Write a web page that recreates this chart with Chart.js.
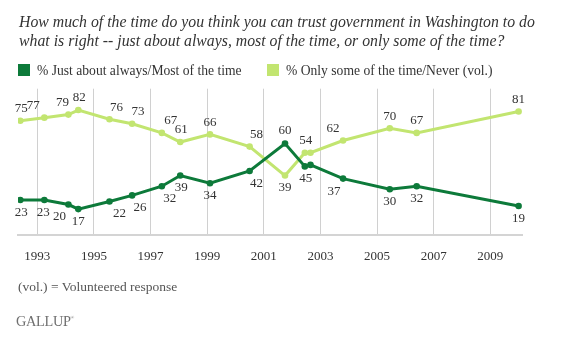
<!DOCTYPE html>
<html>
<head>
<meta charset="utf-8">
<script src="https://cdn.jsdelivr.net/npm/chart.js@4.4.1/dist/chart.umd.min.js"></script>
<style>
  html, body { margin: 0; padding: 0; background: #fff; }
  #wrap { position: relative; width: 570px; height: 337px; overflow: hidden; font-family: "Liberation Serif", serif; color: #333; }
  #chartBox { position: absolute; left: 0; top: 0; width: 570px; height: 337px; }
  .title { position: absolute; left: 19px; top: 12px; font-style: italic; font-size: 15.8px; line-height: 19px; color: #333; white-space: nowrap; }
  .legend { position: absolute; top: 63px; font-size: 13.6px; color: #333; white-space: nowrap; }
  .legend i { display: inline-block; width: 12px; height: 12px; vertical-align: -1px; margin-right: 7px; }
  .note { position: absolute; left: 18px; top: 279px; font-size: 13.5px; color: #555; }
  .brand { position: absolute; left: 16px; top: 313px; font-size: 14.3px; color: #6f6f6f; letter-spacing: -0.3px; }
  .brand sup { font-size: 5px; vertical-align: 7px; }
</style>
</head>
<body>
<div id="wrap">
  <div id="chartBox"><canvas id="trustChart"></canvas></div>
  <div class="title">How much of the time do you think you can trust government in Washington to do<br>what is right -- just about always, most of the time, or only some of the time?</div>
  <div class="legend" style="left:18px"><i style="background:#0d7a3a"></i>% Just about always/Most of the time</div>
  <div class="legend" style="left:267px"><i style="background:#c2e570"></i>% Only some of the time/Never (vol.)</div>
  <div class="note">(vol.) = Volunteered response</div>
  <div class="brand">GALLUP<sup>®</sup></div>
</div>
<script>
// survey dates (fractional years)
const surveyDates = [1992.4, 1993.25, 1994.1, 1994.45, 1995.55, 1996.35, 1997.4, 1998.05,
  1999.1, 2000.5, 2001.75, 2002.45, 2002.65, 2003.8, 2005.45, 2006.4, 2010.0];
const mostOfTime = [23, 23, 20, 17, 22, 26, 32, 39, 34, 42, 60, 45, 46, 37, 30, 32, 19];
const someOrNever = [75, 77, 79, 82, 76, 73, 67, 61, 66, 58, 39, 54, 54, 62, 70, 67, 81];
const tickYears = [1993, 1995, 1997, 1999, 2001, 2003, 2005, 2007, 2009];

// label nudges so neighbouring numbers don't collide
const darkLabelDx = [1, -1, -9, 0, 10, 8, 8, 1, 0, 7, 0, 1, 0, -9, 0, 0, 0];
const lightLabelDx = [1, -11, -6, 1, 7, 6, 9, 1, 0, 7, 0, 1, 0, -10, 0, 0, 0];
const flipLabelAt = 10;   // lines cross here, labels swap sides
const noLabelAt = 12;

const DARK = '#0d7a3a';
const LIGHT = '#c2e570';

const toPoints = vals => vals.map((v, i) => ({ x: surveyDates[i], y: v }));

const pointLabels = {
  id: 'pointLabels',
  afterDatasetsDraw(chart) {
    const ctx = chart.ctx;
    ctx.save();
    ctx.font = '13px "Liberation Serif", serif';
    ctx.fillStyle = '#333';
    ctx.textAlign = 'center';
    ctx.textBaseline = 'middle';
    chart.data.datasets.forEach((ds, di) => {
      const meta = chart.getDatasetMeta(di);
      const below = di === 0;
      const dxs = below ? darkLabelDx : lightLabelDx;
      meta.data.forEach((pt, i) => {
        if (i === noLabelAt) return;
        let dy = below ? 12.5 : -12;
        if (i === flipLabelAt) dy = -dy;
        ctx.fillText(String(ds.data[i].y), pt.x + dxs[i], pt.y + dy);
      });
    });
    ctx.restore();
  }
};

new Chart(document.getElementById('trustChart'), {
  type: 'line',
  data: {
    datasets: [
      {
        label: '% Just about always/Most of the time',
        data: toPoints(mostOfTime),
        borderColor: DARK,
        backgroundColor: DARK,
        borderWidth: 3,
        pointRadius: 3.3,
        pointBorderWidth: 0,
        tension: 0
      },
      {
        label: '% Only some of the time/Never (vol.)',
        data: toPoints(someOrNever),
        borderColor: LIGHT,
        backgroundColor: LIGHT,
        borderWidth: 3,
        pointRadius: 3.3,
        pointBorderWidth: 0,
        tension: 0
      }
    ]
  },
  options: {
    responsive: true,
    maintainAspectRatio: false,
    animation: false,
    layout: { padding: { left: 18, right: 48, top: 88.7, bottom: 0 } },
    plugins: {
      legend: { display: false },
      tooltip: { enabled: false }
    },
    scales: {
      x: {
        type: 'linear',
        min: 1992.32,
        max: 2010.12,
        afterBuildTicks: scale => { scale.ticks = tickYears.map(v => ({ value: v })); },
        afterFit: scale => { scale.height = 102; },
        grid: { color: '#d0d0d0', lineWidth: 1, drawTicks: false },
        border: { color: '#d4d4d4', width: 2 },
        ticks: {
          padding: 14,
          color: '#333',
          font: { family: '"Liberation Serif", serif', size: 13 },
          maxRotation: 0,
          autoSkip: false,
          callback: v => String(v)
        }
      },
      y: {
        display: false,
        min: 0,
        max: 96
      }
    }
  },
  plugins: [pointLabels]
});
</script>
</body>
</html>
